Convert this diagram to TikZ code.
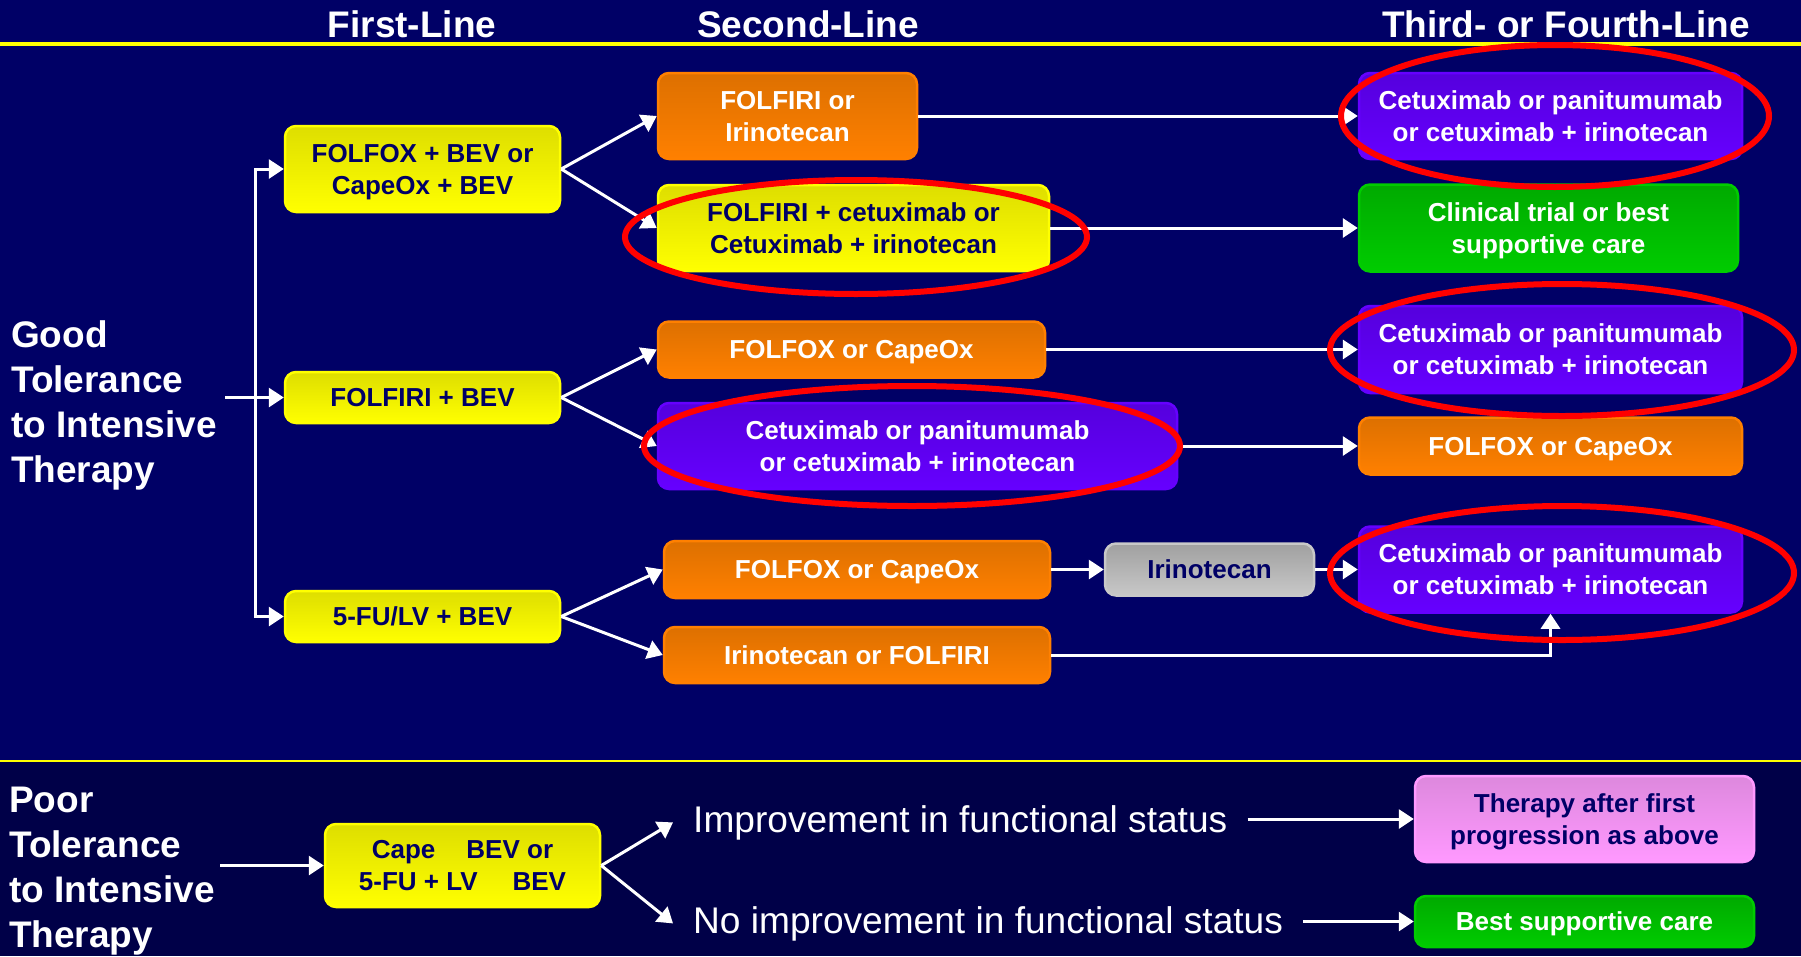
\documentclass[tikz,border=0pt]{standalone}
\usepackage{fontspec}
\setmainfont{Liberation Sans}
\usetikzlibrary{arrows.meta,shapes.geometric}
\definecolor{bgtop}{RGB}{0,0,102}
\definecolor{bgbot}{RGB}{0,0,72}
\definecolor{navy}{RGB}{0,0,102}
\definecolor{ylw}{RGB}{255,255,0}
\definecolor{ylwd}{RGB}{222,222,0}
\definecolor{org}{RGB}{255,128,0}
\definecolor{orgd}{RGB}{221,112,0}
\definecolor{pur}{RGB}{102,0,255}
\definecolor{purd}{RGB}{85,0,221}
\definecolor{grn}{RGB}{0,204,0}
\definecolor{grnd}{RGB}{0,170,0}
\definecolor{gry}{RGB}{200,200,200}
\definecolor{gryd}{RGB}{160,160,160}
\definecolor{pnk}{RGB}{255,153,255}
\definecolor{pnkd}{RGB}{221,136,221}
\definecolor{ringred}{RGB}{255,0,0}
\tikzset{
  box/.style={rounded corners=11pt, line width=2.5pt, align=center, inner sep=0pt,
    text depth=0pt, font=\bfseries\fontsize{26}{32}\selectfont},
  sz/.style 2 args={minimum width=#1pt, minimum height=#2pt},
  ybox/.style={box, draw=ylw, top color=ylwd, bottom color=ylw, text=navy},
  obox/.style={box, draw=org, top color=orgd, bottom color=org, text=white},
  pbox/.style={box, draw=pur, top color=purd, bottom color=pur, text=white},
  gbox/.style={box, draw=grn, top color=grnd, bottom color=grn, text=white},
  graybox/.style={box, draw=gry, top color=gryd, bottom color=gry, text=navy},
  pinkbox/.style={box, draw=pnk, top color=pnkd, bottom color=pnk, text=navy},
  hdr/.style={text=white, inner sep=0pt, font=\bfseries\fontsize{37}{44}\selectfont},
  lbl/.style={text=white, inner sep=0pt, align=left, font=\bfseries\fontsize{37}{45}\selectfont},
  itxt/.style={text=white, inner xsep=20pt, inner ysep=0pt, font=\fontsize{37.1}{44}\selectfont},
  arr/.style={draw=white, line width=3pt, -{Triangle[length=15pt,width=19pt]}},
  ring/.style={draw=ringred, line width=6pt}
}
\begin{document}
\begin{tikzpicture}[x=1pt,y=-1pt]
\useasboundingbox (0,0) rectangle (1801,956);
% backgrounds
\fill[bgtop] (0,0) rectangle (1801,761);
\fill[bgbot] (0,761) rectangle (1801,956);
\draw[ylw, line width=4pt] (0,44) -- (1801,44);
\draw[ylw, line width=2.5pt] (0,761) -- (1801,761);
% headers
\node[hdr, anchor=base] (h1) at (412,37) {First-Line};
\node[hdr, anchor=base] (h2) at (808,37) {Second-Line};
\node[hdr, anchor=base] (h3) at (1566,37) {Third- or Fourth-Line};
% left labels (base anchor = last line)
\node[lbl, anchor=base west] (good) at (11,482) {Good\\Tolerance\\to Intensive\\Therapy};
\node[lbl, anchor=base west] (poor) at (9,947) {Poor\\Tolerance\\to Intensive\\Therapy};
% first line
\node[ybox, sz={275}{86}] (B1) at (422.5,169) {FOLFOX + BEV or\\CapeOx + BEV};
\node[ybox, sz={275}{51}] (B2) at (422.5,397.5) {FOLFIRI + BEV};
\node[ybox, sz={275}{51}] (B3) at (422.5,616.5) {5-FU/LV + BEV};
% second line
\node[obox, sz={259}{86}] (S1) at (787.5,116) {FOLFIRI or\\Irinotecan};
\node[ybox, sz={391}{86}] (S2) at (853.5,228) {FOLFIRI + cetuximab or\\Cetuximab + irinotecan};
\node[obox, sz={387}{56}] (S3) at (851.5,349.5) {FOLFOX or CapeOx};
\node[pbox, sz={519}{86}] (S4) at (917.5,446) {Cetuximab or panitumumab\\or cetuximab + irinotecan};
\node[obox, sz={386}{57}] (S5) at (857,569.5) {FOLFOX or CapeOx};
\node[obox, sz={386}{56}] (S6) at (857,655) {Irinotecan or FOLFIRI};
\node[graybox, sz={209}{52}] (G) at (1209.5,569.5) {Irinotecan};
% third line
\node[pbox, sz={383}{86}] (T1) at (1550.5,116) {Cetuximab or panitumumab\\or cetuximab + irinotecan};
\node[gbox, sz={379}{87}] (T2) at (1548.5,228) {Clinical trial or best\\supportive care};
\node[pbox, sz={383}{87}] (T3) at (1550.5,349.5) {Cetuximab or panitumumab\\or cetuximab + irinotecan};
\node[obox, sz={383}{57}] (T4) at (1550.5,446) {FOLFOX or CapeOx};
\node[pbox, sz={383}{86}] (T5) at (1550.5,569.5) {Cetuximab or panitumumab\\or cetuximab + irinotecan};
% poor tolerance
\node[ybox, sz={275}{83}] (P) at (462.5,865.5) {Cape\hspace{31pt}BEV or\\5-FU + LV\hspace{35pt}BEV};
\node[itxt, anchor=base west] (imp) at (673,832) {Improvement in functional status};
\node[itxt, anchor=base west] (noimp) at (673,933) {No improvement in functional status};
\node[pinkbox, sz={339}{86}] (pink) at (1584.5,819) {Therapy after first\\progression as above};
\node[gbox, sz={339}{51}] (bsc) at (1584.5,921.5) {Best supportive care};
% connectors
\coordinate (goodout) at (225,397.5);
\coordinate (spine) at (255,397.5);
\draw[arr] (goodout) -- (B2.west);
\draw[arr] (spine) |- (B1.west);
\draw[arr] (spine) |- (B3.west);
\draw[arr] (B1.east) -- (S1.west);
\draw[arr] (B1.east) -- (S2.west);
\draw[arr] (B2.east) -- (S3.west);
\draw[arr] (B2.east) -- (S4.west);
\draw[arr] (B3.east) -- (S5.west);
\draw[arr] (B3.east) -- (S6.west);
\draw[arr] (S1.east) -- (T1.west);
\draw[arr] (S2.east) -- (T2.west);
\draw[arr] (S3.east) -- (T3.west);
\draw[arr] (S4.east) -- (T4.west);
\draw[arr] (S5.east) -- (G.west);
\draw[arr] (G.east) -- (T5.west);
\draw[arr] (S6.east) -| (T5.south);
\coordinate (poorout) at (220,865.5);
\draw[arr] (poorout) -- (P.west);
\draw[arr] (P.east) -- (imp.west);
\draw[arr] (P.east) -- (noimp.west);
\draw[arr] (pink.west -| imp.east) -- (pink.west);
\draw[arr] (bsc.west -| noimp.east) -- (bsc.west);
% red rings
\draw[ring] (1555,116) ellipse [x radius=214pt, y radius=71pt];
\draw[ring] (856,237) ellipse [x radius=231pt, y radius=57pt];
\draw[ring] (1562,350) ellipse [x radius=232pt, y radius=66pt];
\draw[ring] (912,446) ellipse [x radius=268pt, y radius=60pt];
\draw[ring] (1562,573) ellipse [x radius=232pt, y radius=67pt];
\end{tikzpicture}
\end{document}
